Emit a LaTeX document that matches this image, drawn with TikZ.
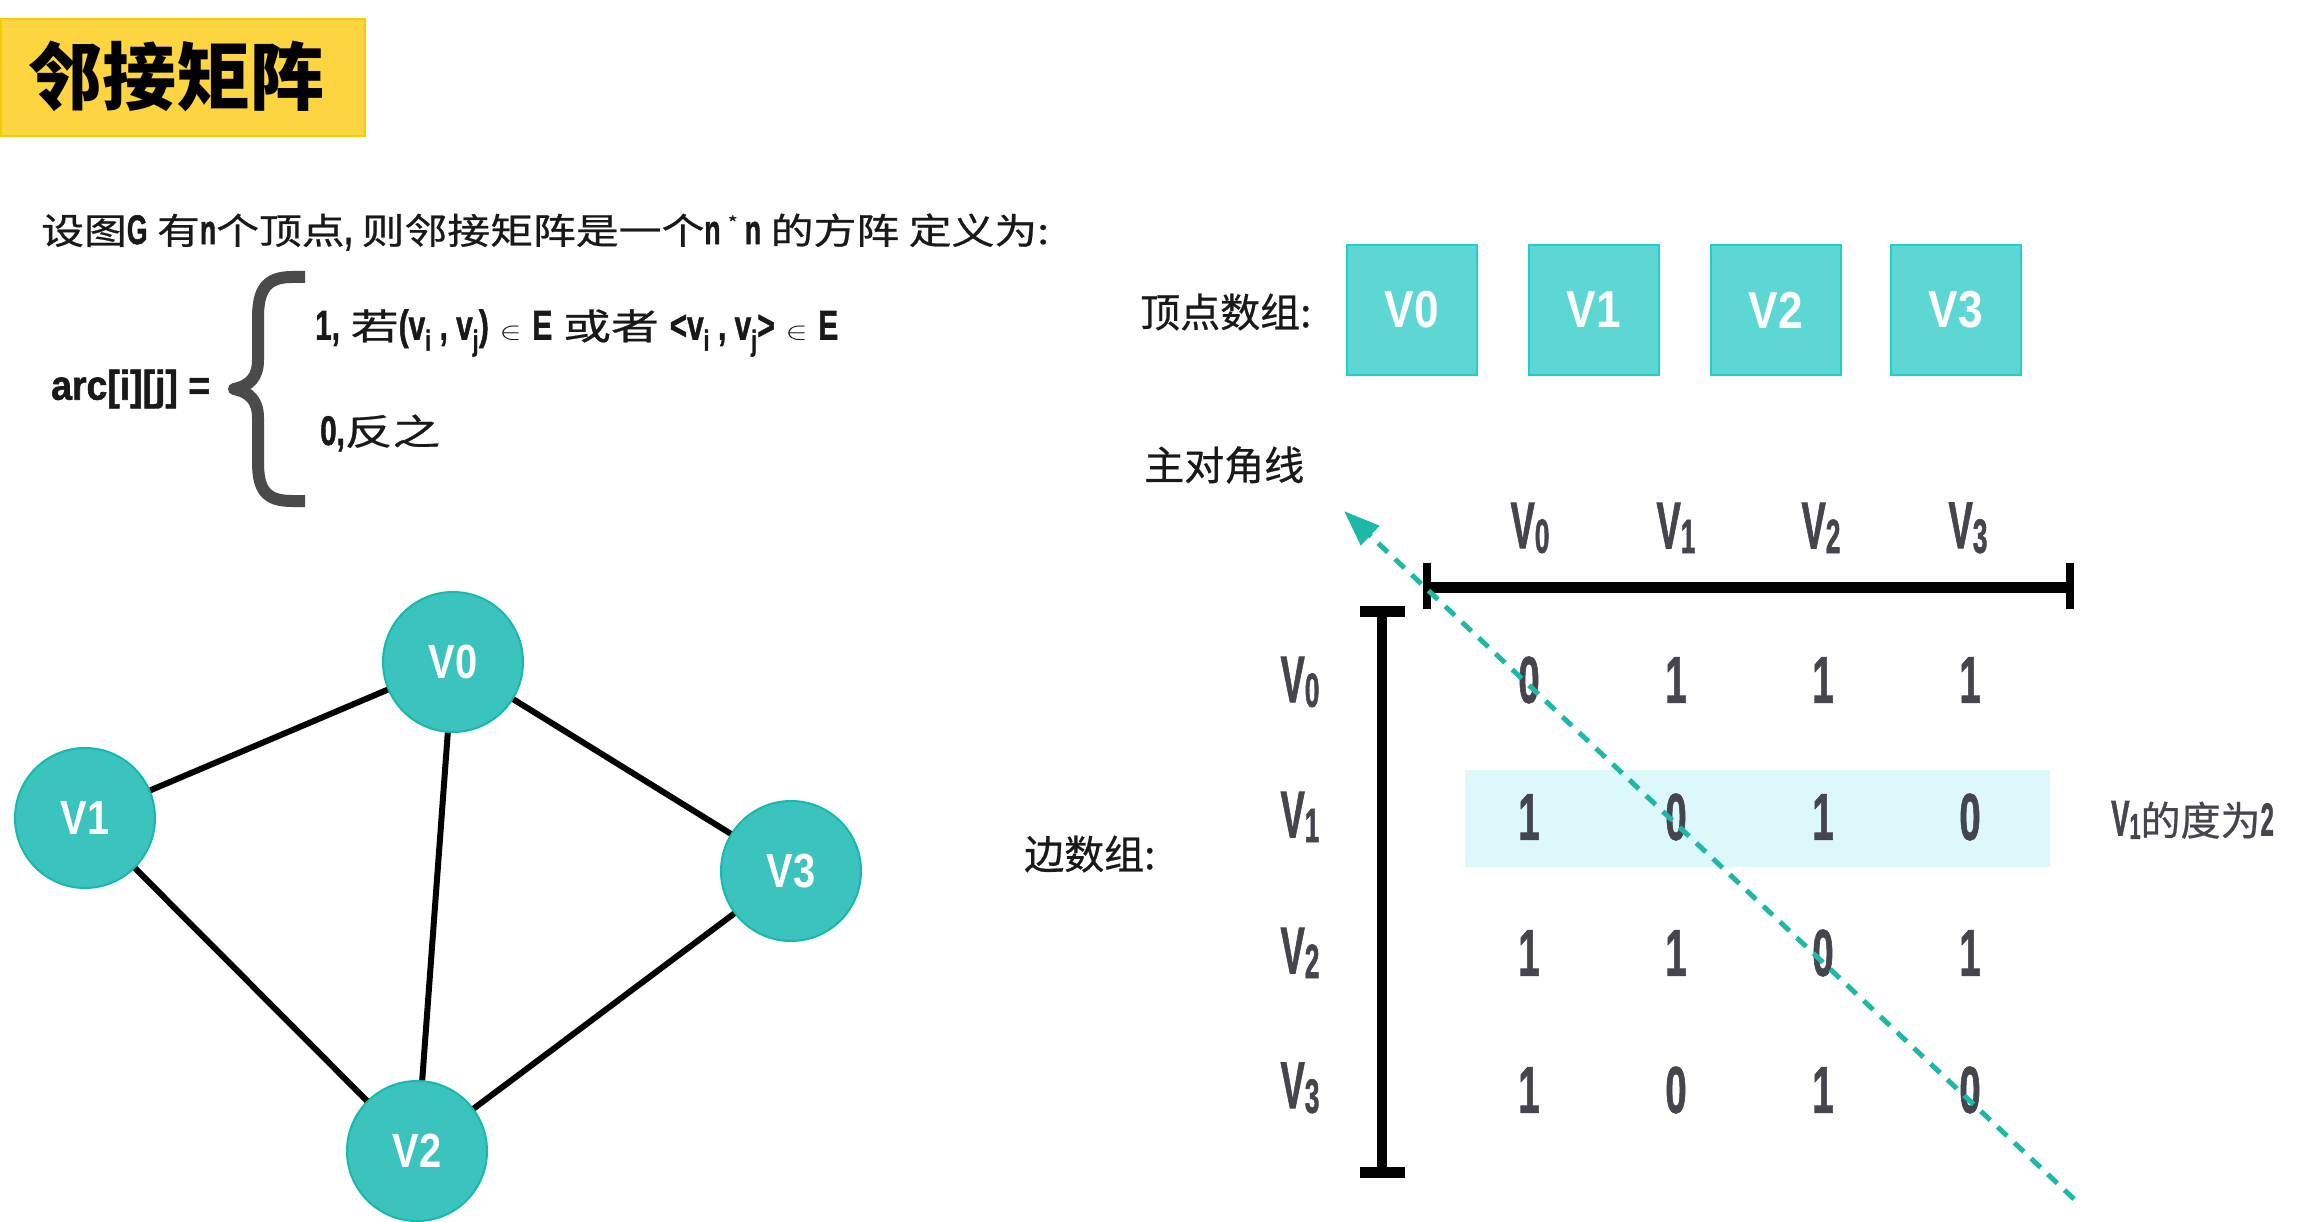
\documentclass[tikz,border=0pt]{standalone}
\usepackage{fontspec}
\usepackage{graphicx}
\setmainfont{Noto Sans CJK SC}[UprightFeatures={FakeBold=0.6}]
\newfontfamily\lat{Liberation Sans}[BoldFeatures={FakeBold=1.5}]
\newfontfamily\latn{Liberation Sans}
\usetikzlibrary{arrows.meta,shapes.geometric}
\definecolor{ttl}{HTML}{FDD540}
\definecolor{ttlb}{HTML}{F5CC00}
\definecolor{boxf}{HTML}{5DD7D4}
\definecolor{boxd}{HTML}{1FD0C8}
\definecolor{gnf}{HTML}{3BC3BD}
\definecolor{gnd}{HTML}{17B8AE}
\definecolor{dig}{HTML}{45454E}
\definecolor{brc}{HTML}{4A4A4A}
\definecolor{hl}{HTML}{DDF8FB}
\definecolor{dsh}{HTML}{1DB8A8}
\newcommand{\cnd}[2][0.62]{\scalebox{#1}[1.15]{\lat\bfseries #2}}
\newcommand{\dg}[1]{\scalebox{0.58}[1]{\lat\bfseries #1}}
\newcommand{\vsb}[1]{\scalebox{0.55}[1]{\lat\bfseries V\raisebox{-0.07em}{\fontsize{48}{48}\selectfont #1}}}
\begin{document}
\begin{tikzpicture}[x=1pt,y=-1pt,
  body/.style={font=\fontsize{36}{40}\selectfont, text=black!90, inner sep=0pt, anchor=west},
  head/.style={font=\fontsize{40}{44}\selectfont, text=black!90, inner sep=0pt, anchor=west},
  arrbox/.style={draw=boxd, line width=2pt, fill=boxf, minimum width=130pt, minimum height=130pt, inner sep=0pt, text=white, font=\latn\bfseries\fontsize{52}{52}\selectfont},
  gnode/.style={circle, draw=gnd, line width=2pt, fill=gnf, minimum size=140pt, inner sep=0pt, text=white, font=\latn\bfseries\fontsize{48}{48}\selectfont},
  edge/.style={line width=6pt, black},
  digit/.style={text=dig, inner sep=0pt, font=\fontsize{66}{66}\selectfont},
  lbl/.style={text=dig, inner sep=0pt, font=\fontsize{66}{66}\selectfont},
  bar/.style={line width=10pt, black}
]
\useasboundingbox[fill=white] (0,0) rectangle (2300,1222);

% title
\node[draw=ttlb, line width=2pt, fill=ttl, minimum width=364pt, minimum height=117pt, inner sep=0pt, anchor=north west] (title) at (0,18) {};
\node[font=\bfseries\fontsize{74}{74}\selectfont, inner sep=0pt] (titletext) at (176,76) {邻接矩阵};

% definition
\node[body] (line1) at (41,232) {\resizebox{1008pt}{\height}{设图\cnd{G} 有\cnd{n}个顶点\cnd{,} 则邻接矩阵是一个\cnd{n}\,\raisebox{0.4em}{\fontsize{18}{18}\selectfont *}\,\cnd{n} 的方阵 定义为:}};
\node[body] (arc) at (51,389) {\resizebox{159pt}{\height}{\cnd[0.62]{arc[i][j] =}}};
\draw[brc, line width=12pt, line cap=butt, line join=round] (305,277) -- (292,277) .. controls (266,277) and (258,290) .. (258,318) -- (258,360) .. controls (258,377) and (250,386) .. (234,389) .. controls (250,392) and (258,401) .. (258,418) -- (258,462) .. controls (258,490) and (266,501) .. (292,501) -- (305,501);
\node[body] (case1) at (315,333) {\resizebox{523pt}{\height}{\cnd{1,} 若\cnd{(v\textsubscript{i} , v\textsubscript{j})} $\in$ \cnd{E} 或者 \cnd{<v\textsubscript{i} , v\textsubscript{j}>} $\in$ \cnd{E}}};
\node[body] (case0) at (320,433) {\resizebox{120pt}{\height}{\cnd{0,}反之}};

% vertex array
\node[head] (vlabel) at (1140,312) {顶点数组:};
\node[arrbox] (a0) at (1412,310) {\scalebox{0.85}[1]{V0}};
\node[arrbox] (a1) at (1594,310) {\scalebox{0.85}[1]{V1}};
\node[arrbox] (a2) at (1776,310) {\scalebox{0.85}[1]{V2}};
\node[arrbox] (a3) at (1956,310) {\scalebox{0.85}[1]{V3}};

% graph
\node[gnode] (g0) at (453,662) {\scalebox{0.83}[1]{V0}};
\node[gnode] (g1) at (85,818) {\scalebox{0.83}[1]{V1}};
\node[gnode] (g2) at (417,1151) {\scalebox{0.83}[1]{V2}};
\node[gnode] (g3) at (791,871) {\scalebox{0.83}[1]{V3}};
\draw[edge] (g0) -- (g1);
\draw[edge] (g0) -- (g2);
\draw[edge] (g0) -- (g3);
\draw[edge] (g1) -- (g2);
\draw[edge] (g2) -- (g3);

% matrix
\node[head] (mdiag) at (1144,465) {主对角线};
\node[head] (elabel) at (1024,854) {边数组:};
\fill[hl] (1465,770) rectangle (2050,867);

\coordinate (hl) at (1427,587);
\coordinate (hr) at (2070,587);
\draw[bar, line width=11pt] (hl) -- (hr);
\draw[bar, line width=8pt] (1427,563) -- (1427,609);
\draw[bar, line width=8pt] (2070,563) -- (2070,609);
\coordinate (vt) at (1382,611);
\coordinate (vb) at (1382,1172);
\draw[bar] (vt) -- (vb);
\draw[bar, line width=11pt] (1360,611) -- (1405,611);
\draw[bar, line width=11pt] (1360,1172) -- (1405,1172);

\foreach \n/\x in {0/1530,1/1676,2/1821,3/1968}
  \node[lbl] (c\n) at (\x,528) {\vsb{\n}};
\foreach \n/\y in {0/682,1/817,2/953,3/1088}
  \node[lbl] (r\n) at (1300,\y) {\vsb{\n}};

\foreach \r/\y/\vals in {0/680/{0,1,1,1},1/817/{1,0,1,0},2/953/{1,1,0,1},3/1090/{1,0,1,0}}{
  \foreach \v [count=\c from 0] in \vals {
    \pgfmathsetmacro{\xx}{1529+147*\c}
    \node[digit] (m\r\c) at (\xx,\y) {\dg{\v}};
  }
}

\node[head, text=dig] (deg) at (2111,820) {{\fontsize{50}{50}\selectfont\scalebox{0.55}[1]{\lat\bfseries V\raisebox{-0.07em}{\fontsize{36}{36}\selectfont 1}}}的度为\cnd[0.6]{2}};

% diagonal
\coordinate (dstart) at (2074,1199);
\coordinate (dtip) at (1344,511);
\draw[dsh, line width=5pt, dash pattern=on 13pt off 10pt, -{Triangle[length=36pt,width=26pt]}] (dstart) -- (dtip);
\end{tikzpicture}
\end{document}
